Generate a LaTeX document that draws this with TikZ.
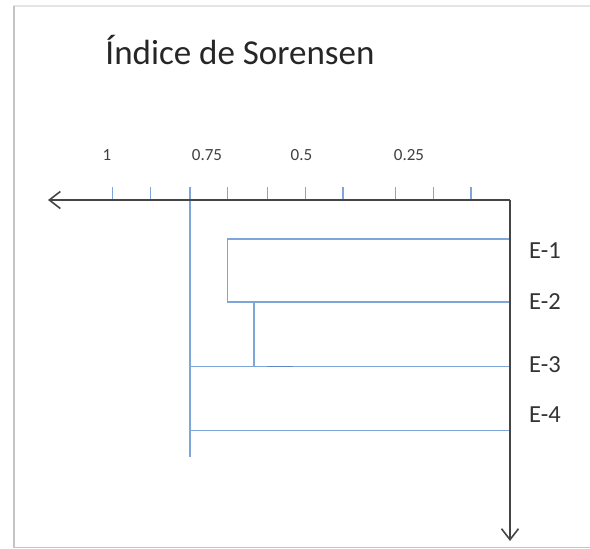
\documentclass[tikz,border=0pt]{standalone}
\usepackage{fontspec}
\setmainfont{Carlito}
\usetikzlibrary{arrows.meta}
\definecolor{dendro}{HTML}{7FA6D9}
\definecolor{dendrodark}{HTML}{5F88C4}
\definecolor{axisgray}{HTML}{454545}
\definecolor{framegray}{HTML}{C4C4C4}
\definecolor{framelight}{HTML}{E4E4E4}
\tikzset{
  axisline/.style={draw=axisgray, line width=1.6pt},
  barb/.style={-{Straight Barb[length=11pt,width=17pt,line width=1.6pt]}},
  tick/.style={draw=dendro, line width=1.3pt},
  branch/.style={draw=dendro, line width=1.5pt},
  ticklabel/.style={font=\fontsize{17}{20}\selectfont, text=black!75, inner sep=0pt},
  leaflabel/.style={font=\fontsize{24.5}{28}\selectfont, text=black!80, anchor=west, inner sep=0pt},
  titlelabel/.style={font=\fontsize{35}{40}\selectfont, text=black!85, inner sep=0pt},
}
\begin{document}
\begin{tikzpicture}[x=1pt,y=-1pt]
\useasboundingbox (0,0) rectangle (590,549);
\fill[white] (0,0) rectangle (590,549);
% frame
\draw[framelight, line width=1.2pt] (13,6) -- (590,6);
\draw[framegray, line width=2pt] (13.5,6) -- (13.5,547.5);
\draw[framegray, line width=1.6pt] (13,547.5) -- (590,547.5);
% title
\node[titlelabel] (title) at (240,50) {Índice de Sorensen};
% axis coordinates
\coordinate (axL) at (48,200);
\coordinate (corner) at (510,200);
\coordinate (axB) at (510,541);
% ticks
\foreach \x [count=\i] in {112.7,150.7,190,227.7,267.3,305.3,343,395.3,433.3,471}{
  \coordinate (t\i top) at (\x,187);
  \coordinate (t\i bot) at (\x,200);
  \draw[tick] (t\i top) -- (t\i bot);
}
% tick labels
\node[ticklabel] (l1) at (107,155) {1};
\node[ticklabel] (l075) at (207,155) {0.75};
\node[ticklabel] (l05) at (301.5,155) {0.5};
\node[ticklabel] (l025) at (409,155) {0.25};
% leaves
\coordinate (e1) at (510,239);
\coordinate (e2) at (510,302);
\coordinate (e3) at (510,366.5);
\coordinate (e4) at (510,430.5);
% internal joins
\coordinate (j12top) at (227.7,239);
\coordinate (j12bot) at (227.7,302);
\coordinate (j123top) at (254,302);
\coordinate (j123bot) at (254,366.5);
\coordinate (rootTop) at (190,200);
\coordinate (root3) at (190,366.5);
\coordinate (root4) at (190,430.5);
\coordinate (rootBot) at (190,456.5);
\coordinate (stubL) at (266.5,366.5);
\coordinate (stubR) at (292.5,366.5);
% dendrogram
\draw[branch] (e1) -- (j12top) -- (j12bot) -- (e2);
\draw[branch] (j123top) -- (j123bot);
\draw[branch] (root3) -- (e3);
\draw[branch] (root4) -- (e4);
\draw[branch] (rootTop) -- (rootBot);
\draw[draw=dendrodark, line width=1.5pt] (stubL) -- (stubR);
% axes
\draw[axisline, barb] (corner) -- (axL);
\draw[axisline, barb] (corner) -- (axB);
% leaf labels
\node[leaflabel] (n1) at (529,251) {E-1};
\node[leaflabel] (n2) at (529,301.5) {E-2};
\node[leaflabel] (n3) at (529,365) {E-3};
\node[leaflabel] (n4) at (529,415) {E-4};
\end{tikzpicture}
\end{document}
